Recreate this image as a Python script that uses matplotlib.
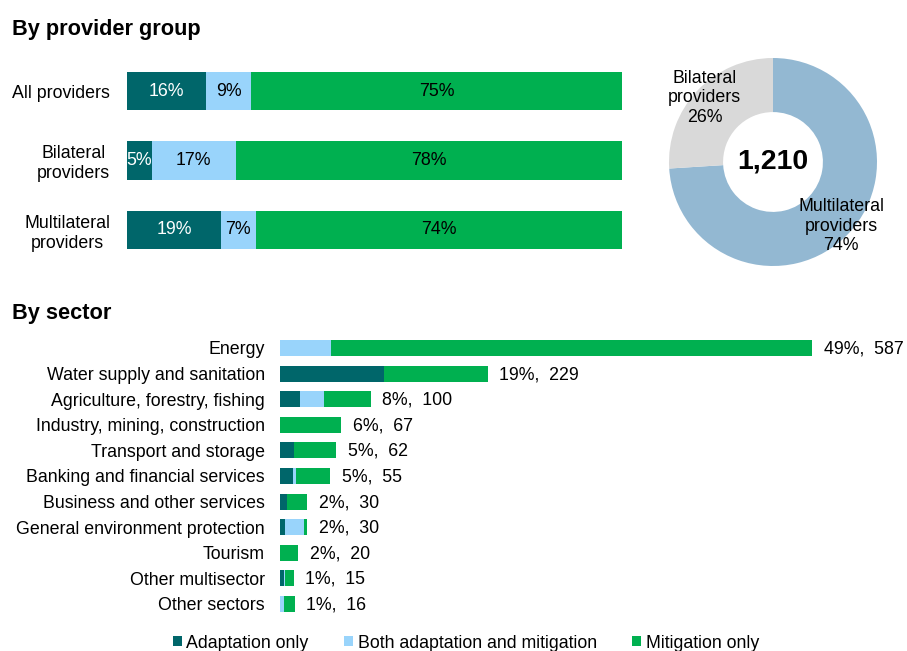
import matplotlib
matplotlib.use("Agg")
import matplotlib.pyplot as plt
from matplotlib.patches import Patch
import numpy as np

plt.rcParams['font.family'] = ['Liberation Sans', 'DejaVu Sans']

# ---- data ----
series_names = ["Adaptation only", "Both adaptation and mitigation", "Mitigation only"]
colors = ["#00666A", "#99D4FB", "#00B050"]

provider_groups = ["All providers", "Bilateral\nproviders", "Multilateral\nproviders"]
prov_adapt = [16, 5, 19]
prov_both = [9, 17, 7]
prov_mitig = [75, 78, 74]

donut_labels = ["Multilateral\nproviders", "Bilateral\nproviders"]
donut_shares = [74, 26]
donut_colors = ["#93B8D2", "#D9D9D9"]
donut_total = "1,210"

sectors = ["Energy", "Water supply and sanitation", "Agriculture, forestry, fishing",
           "Industry, mining, construction", "Transport and storage",
           "Banking and financial services", "Business and other services",
           "General environment protection", "Tourism", "Other multisector",
           "Other sectors"]
sec_adapt = [0, 115, 22, 0, 15, 14, 8, 6, 0, 4, 0]
sec_both = [56, 0, 26, 0, 0, 4, 0, 20, 0, 2, 4]
sec_mitig = [531, 114, 52, 67, 47, 37, 22, 4, 20, 9, 12]
sec_pct = [49, 19, 8, 6, 5, 5, 2, 2, 2, 1, 1]
sec_total = [587, 229, 100, 67, 62, 55, 30, 30, 20, 15, 16]

W, H = 907, 651
fig = plt.figure(figsize=(W / 100, H / 100), dpi=100)
FS = 12.8

def px_axes(left, top, width, height):
    return fig.add_axes([left / W, 1 - (top + height) / H, width / W, height / H])

# ---- titles ----
fig.text(12 / W, 1 - 29 / H, "By provider group", fontsize=15.7, fontweight="bold", va="center", ha="left")
fig.text(12 / W, 1 - 314 / H, "By sector", fontsize=15.7, fontweight="bold", va="center", ha="left")

# ---- provider group bars ----
ax1 = px_axes(127, 56.25, 495, 208.5)
y = np.arange(len(provider_groups))
left = np.zeros(len(y))
txtcolors = ["white", "black", "black"]
for vals, c, tc in zip([prov_adapt, prov_both, prov_mitig], colors, txtcolors):
    ax1.barh(y, vals, left=left, height=0.547, color=c, edgecolor="none")
    for yi, v, l in zip(y, vals, left):
        ax1.text(l + v / 2, yi, f"{v}%", ha="center", va="center", color=tc, fontsize=FS)
    left = left + np.array(vals)
ax1.set_xlim(0, 100)
ax1.set_ylim(2.5, -0.5)
ax1.set_yticks(y)
ax1.set_yticklabels(provider_groups, fontsize=FS)
for t in ax1.get_yticklabels():
    t.set_multialignment("center")
ax1.tick_params(axis="y", length=0, pad=12)
ax1.set_xticks([])
for s in ax1.spines.values():
    s.set_visible(False)

# ---- donut ----
ax2 = px_axes(773 - 114.4, 162 - 114.4, 228.8, 228.8)
wedges, texts = ax2.pie(donut_shares, colors=donut_colors, startangle=90, counterclock=False,
                        radius=1.0, wedgeprops=dict(width=0.52, edgecolor="none"),
                        labels=[f"{l}\n{s}%" for l, s in zip(donut_labels, donut_shares)],
                        labeldistance=0.9, textprops=dict(fontsize=FS))
for t in texts:
    t.set_ha("center")
    t.set_va("center")
    t.set_multialignment("center")
ax2.text(0, 0, donut_total, ha="center", va="center", fontsize=20.5, fontweight="bold")
ax2.set_xlim(-1.1, 1.1)
ax2.set_ylim(-1.1, 1.1)
ax2.set_aspect("equal")

# ---- sector bars ----
ax3 = px_axes(280, 335.2, 589, 281.6)
ys = np.arange(len(sectors))
left = np.zeros(len(ys))
for vals, c in zip([sec_adapt, sec_both, sec_mitig], colors):
    ax3.barh(ys, vals, left=left, height=0.625, color=c, edgecolor="none")
    left = left + np.array(vals)
for yi, tot, p in zip(ys, sec_total, sec_pct):
    ax3.text(tot + 13, yi + 0.04, f"{p}%,  {tot}", ha="left", va="center", fontsize=FS, clip_on=False)
ax3.set_xlim(0, 589 * 587 / 532)
ax3.set_ylim(10.5, -0.5)
ax3.set_yticks(ys)
ax3.set_yticklabels(sectors, fontsize=FS)
ax3.tick_params(axis="y", length=0, pad=11)
ax3.set_xticks([])
for s in ax3.spines.values():
    s.set_visible(False)

# ---- legend ----
handles = [Patch(facecolor=c, edgecolor="none") for c in colors]
fig.legend(handles, series_names, loc="center", bbox_to_anchor=(466 / W, 1 - 643 / H), ncol=3,
           frameon=False, fontsize=FS, handlelength=0.5, handleheight=0.5,
           handletextpad=0.25, columnspacing=2.0, borderpad=0, borderaxespad=0)

fig.savefig("out.png", dpi=100)
